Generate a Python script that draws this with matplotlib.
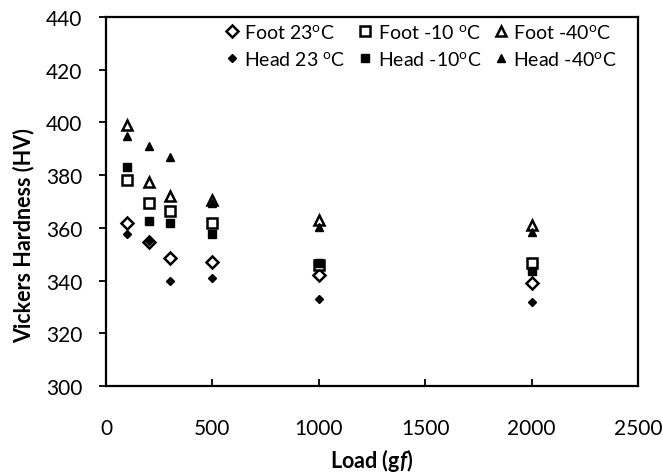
import numpy as np
import matplotlib.pyplot as plt

plt.rcParams['font.family'] = ['Lato', 'DejaVu Sans']
plt.rcParams['mathtext.fontset'] = 'custom'
plt.rcParams['mathtext.rm'] = 'Lato'
plt.rcParams['mathtext.it'] = 'Lato:bold:italic'

loads = [100, 200, 300, 500, 1000, 2000]
foot_23 = [362, 354.5, 348.5, 347, 342, 339]
head_23 = [357.5, 355, 340, 341, 333, 332]
foot_m10 = [378, 369.5, 366.5, 362, 346, 346.5]
head_m10 = [383, 362.5, 362, 357.5, 346.5, 343.5]
foot_m40 = [399, 377.5, 372, 370.5, 363, 361]
head_m40 = [395, 391, 387, 369.5, 360.5, 358.5]

fig = plt.figure(figsize=(6.63, 4.77), dpi=100)
ax = fig.add_axes([0.16, 0.1887, 0.8024, 0.7736])

open_kw = dict(linestyle='none', markerfacecolor='white', markeredgecolor='black', markeredgewidth=1.8)
fill_kw = dict(linestyle='none', color='black')

h1, = ax.plot(loads, foot_23, 'D', markersize=6, label='Foot 23$^{\\rm o}$C', **open_kw)
h2, = ax.plot(loads, head_23, 'D', markersize=4.5, label='Head 23 $^{\\rm o}$C', **fill_kw)
h3, = ax.plot(loads, foot_m10, 's', markersize=7.5, label='Foot -10 $^{\\rm o}$C', **open_kw)
h4, = ax.plot(loads, head_m10, 's', markersize=5.5, label='Head -10$^{\\rm o}$C', **fill_kw)
h5, = ax.plot(loads, foot_m40, '^', markersize=7.5, label='Foot -40$^{\\rm o}$C', **open_kw)
h6, = ax.plot(loads, head_m40, '^', markersize=5.5, label='Head -40$^{\\rm o}$C', **fill_kw)

ax.set_xlim(0, 2500)
ax.set_ylim(300, 440)
ax.set_xticks(np.arange(0, 2501, 500))
ax.set_yticks(np.arange(300, 441, 20))
ax.tick_params(axis='x', direction='in', length=5, width=1.3, labelsize=15, pad=23)
ax.tick_params(axis='y', direction='out', length=5, width=1.3, labelsize=15, pad=12)
for s in ax.spines.values():
    s.set_linewidth(1.6)

ax.set_xlabel('Load (g$\\it{f}$)', fontsize=15.5, fontweight='bold', labelpad=6)
ax.set_ylabel('Vickers Hardness (HV)', fontsize=15.5, fontweight='bold')
ax.yaxis.set_label_coords(-0.135, 0.41)

ax.legend(handles=[h1, h2, h3, h4, h5, h6], ncol=3, frameon=False, fontsize=14,
          loc='upper left', bbox_to_anchor=(218 / 663, 1 - 16 / 477),
          bbox_transform=fig.transFigure, handlelength=0.6, borderaxespad=0,
          handletextpad=0.35, columnspacing=0.7, labelspacing=0.45)

fig.savefig('out.png', dpi=100)
